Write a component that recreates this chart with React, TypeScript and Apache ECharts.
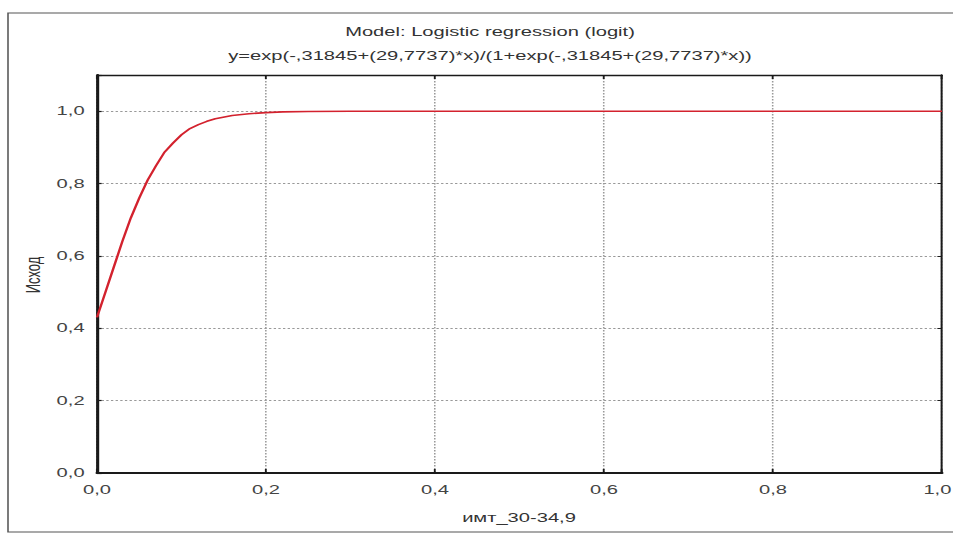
import React, { useEffect, useRef } from "react";
import * as echarts from "echarts";

const titleLine1 = "Model: Logistic regression (logit)";
const titleLine2 = "y=exp(-,31845+(29,7737)*x)/(1+exp(-,31845+(29,7737)*x))";
const xAxisName = "имт_30-34,9";
const yAxisName = "Исход";

const xValues = [0, 0.01, 0.02, 0.03, 0.04, 0.05, 0.06, 0.07, 0.08, 0.09, 0.10, 0.11, 0.12, 0.13, 0.14, 0.16, 0.18, 0.20, 0.22, 0.25, 0.30, 0.40, 0.60, 0.80, 1.00];
const yValues = [0.43, 0.50, 0.57, 0.64, 0.705, 0.76, 0.81, 0.85, 0.887, 0.912, 0.935, 0.952, 0.963, 0.972, 0.979, 0.988, 0.993, 0.996, 0.998, 0.999, 1.0, 1.0, 1.0, 1.0, 1.0];

const SX = 1.55;
const FULL_W = 953;
const W = Math.round(FULL_W / SX);
const H = 533;
const FONT = "'Liberation Sans', Arial, sans-serif";

const fmtY = (v: number) => (v > 1.05 ? "" : v.toFixed(1).replace(".", ","));
const fmtX = (v: number) => {
  const s = v.toFixed(1).replace(".", ",");
  return v >= 0.999 ? `{edge|${s}}` : s;
};

export default function App() {
  const ref = useRef<HTMLDivElement>(null);
  useEffect(() => {
    if (!ref.current) return;
    const chart = echarts.init(ref.current, undefined, { renderer: "svg" });
    const gridLine = { show: true, lineStyle: { color: "#999", width: 1, type: [1.5, 1.5] as any } };
    chart.setOption({
      animation: false,
      backgroundColor: "#fff",
      grid: {
        left: 97 / SX,
        right: W - 942 / SX,
        top: 75,
        bottom: H - 473,
        containLabel: false,
        outerBoundsMode: "none",
      },
      xAxis: [
        {
          type: "value", min: 0, max: 1, interval: 0.2, position: "bottom",
          axisLine: { show: true, onZero: false, lineStyle: { color: "#1a1a1a", width: 2 } },
          axisTick: { show: true, inside: true, length: 4, lineStyle: { color: "#1a1a1a", width: 1.2 } },
          axisLabel: {
            formatter: fmtX, color: "#444", fontSize: 13, fontFamily: FONT, margin: 10, showMaxLabel: true,
            rich: { edge: { padding: [0, 6, 0, 0], color: "#444", fontSize: 13, fontFamily: FONT } },
          },
          splitLine: gridLine,
        },
        {
          type: "value", min: 0, max: 1, interval: 0.2, position: "top",
          axisLine: { show: true, onZero: false, lineStyle: { color: "#1a1a1a", width: 1.3 } },
          axisTick: { show: true, inside: true, length: 4, lineStyle: { color: "#1a1a1a", width: 1.2 } },
          axisLabel: { show: false },
          splitLine: { show: false },
        },
      ],
      yAxis: [
        {
          type: "value", min: 0, max: 1.1, interval: 0.2, position: "left",
          axisLine: { show: true, onZero: false, lineStyle: { color: "#1a1a1a", width: 2 } },
          axisTick: { show: true, inside: true, length: 3, lineStyle: { color: "#1a1a1a", width: 1.2 } },
          axisLabel: { formatter: fmtY, color: "#444", fontSize: 13, fontFamily: FONT, margin: 8 },
          splitLine: gridLine,
        },
        {
          type: "value", min: 0, max: 1.1, interval: 0.2, position: "right",
          axisLine: { show: true, onZero: false, lineStyle: { color: "#1a1a1a", width: 1.3 } },
          axisTick: { show: true, inside: true, length: 3, lineStyle: { color: "#1a1a1a", width: 1.2 } },
          axisLabel: { show: false },
          splitLine: { show: false },
        },
      ],
      series: [
        {
          type: "line",
          xAxisIndex: 0,
          yAxisIndex: 0,
          data: xValues.map((x, i) => [x, yValues[i]]),
          showSymbol: false,
          smooth: false,
          lineStyle: { color: "#d3222e", width: 1.6 },
          itemStyle: { color: "#d3222e" },
          z: 5,
        },
      ],
      graphic: [
        {
          type: "rect", silent: true, z: -1,
          shape: { x: 8 / SX, y: 13, width: W + 20, height: 519 },
          style: { fill: "none", stroke: "#555", lineWidth: 1 },
        },
        {
          type: "text", x: 490 / SX, y: 32,
          style: { text: titleLine1, fill: "#333", font: `13px ${FONT}`, textAlign: "center", textVerticalAlign: "middle" },
        },
        {
          type: "text", x: 490 / SX, y: 56,
          style: { text: titleLine2, fill: "#333", font: `13px ${FONT}`, textAlign: "center", textVerticalAlign: "middle" },
        },
        {
          type: "text", x: 519 / SX, y: 518,
          style: { text: xAxisName, fill: "#333", font: `13px ${FONT}`, textAlign: "center", textVerticalAlign: "middle" },
        },
        {
          type: "text", x: 33 / SX, y: 275, rotation: Math.PI / 2,
          style: { text: yAxisName, fill: "#333", font: `13px ${FONT}`, textAlign: "center", textVerticalAlign: "middle" },
        },
      ],
    });
    return () => chart.dispose();
  }, []);
  return (
    <div
      ref={ref}
      style={{
        position: "fixed",
        left: 0,
        top: 0,
        width: W,
        height: H,
        transform: `scaleX(${SX})`,
        transformOrigin: "0 0",
      }}
    />
  );
}
